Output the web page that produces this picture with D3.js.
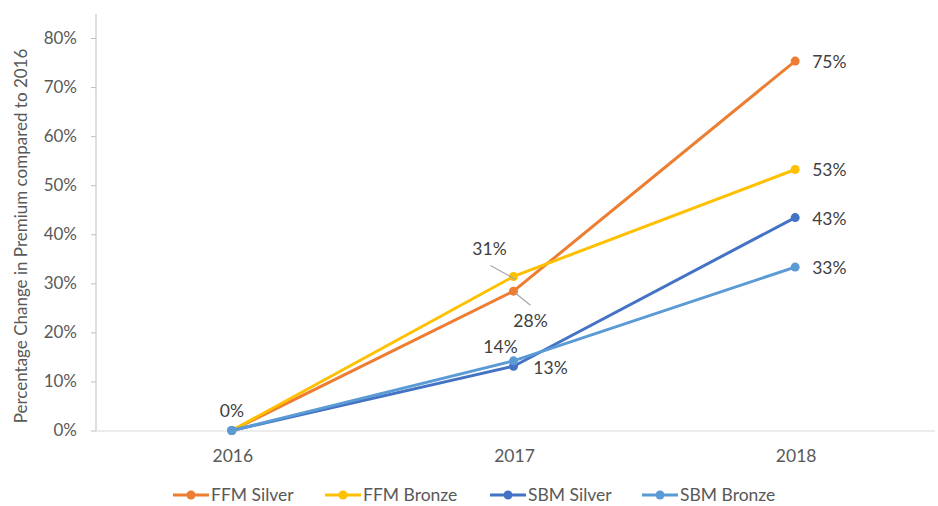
<!DOCTYPE html>
<html>
<head>
<meta charset="utf-8">
<script src="https://cdn.jsdelivr.net/npm/d3@7"></script>
<style>
  body { margin: 0; background: #fff; }
  svg { font-family: Lato, "Open Sans", sans-serif; }
</style>
</head>
<body>
<svg></svg>
<script>
var screen = {width: 938, height: 506}
var margins = {top: 14, right: 3, bottom: 75, left: 96}

var years = ["2016", "2017", "2018"]
var seriesNames = ["FFM Silver", "FFM Bronze", "SBM Silver", "SBM Bronze"]
var ffmSilver = [0, 28.4, 75.3]
var ffmBronze = [0, 31.4, 53.2]
var sbmSilver = [0, 13.1, 43.4]
var sbmBronze = [0, 14.2, 33.3]
var yTicks = [0, 10, 20, 30, 40, 50, 60, 70, 80]
var colors = ["#ED7D31", "#FFC000", "#4472C4", "#5B9BD5"]

var allSeries = [ffmSilver, ffmBronze, sbmSilver, sbmBronze]
var fontSize = "17.5px"

var svg = d3.select("svg")
    .attr("width", screen.width)
    .attr("height", screen.height)

var height = screen.height - margins.top - margins.bottom
var bottom = margins.top + height

var xScale = d3.scalePoint()
    .domain(years)
    .range([91, 936])
    .padding(0.5)

var yScale = d3.scaleLinear()
    .domain([0, 80])
    .range([bottom - 0.5, 38])

// y axis
var yAxis = d3.axisLeft(yScale)
    .tickValues(yTicks)
    .tickSize(5)
    .tickFormat(function(d){ return d + "%" })

var yg = svg.append("g")
    .attr("transform", "translate(" + margins.left + ",0)")
    .call(yAxis)
yg.select(".domain").remove()
yg.selectAll(".tick line").attr("stroke", "#BFBFBF")
yg.selectAll(".tick text")
    .attr("x", -19)
    .attr("fill", "#595959")
    .style("font-size", "17px")
    .style("font-family", "Lato, sans-serif")

svg.append("line")
    .attr("x1", margins.left).attr("x2", margins.left)
    .attr("y1", margins.top).attr("y2", bottom)
    .attr("stroke", "#BFBFBF")

// x axis
svg.append("line")
    .attr("x1", margins.left).attr("x2", screen.width - margins.right)
    .attr("y1", bottom).attr("y2", bottom)
    .attr("stroke", "#D9D9D9")

svg.selectAll(".xlabel")
    .data(years)
    .enter()
    .append("text")
    .attr("class", "xlabel")
    .attr("x", function(d){ return xScale(d) + 1 })
    .attr("y", bottom + 31)
    .attr("text-anchor", "middle")
    .attr("fill", "#595959")
    .style("font-size", fontSize)
    .text(function(d){ return d })

// y title
svg.append("text")
    .attr("transform", "translate(27," + 236 + ") rotate(-90)")
    .attr("text-anchor", "middle")
    .attr("fill", "#595959")
    .style("font-size", "17px")
    .text("Percentage Change in Premium compared to 2016")

// lines
var line = d3.line()
    .x(function(d, i){ return xScale(years[i]) })
    .y(function(d){ return yScale(d) })

allSeries.forEach(function(vals, s)
{
    svg.append("path")
        .datum(vals)
        .attr("d", line)
        .attr("fill", "none")
        .attr("stroke", colors[s])
        .attr("stroke-width", 3)
        .attr("stroke-linejoin", "round")

    svg.selectAll(".dot" + s)
        .data(vals)
        .enter()
        .append("circle")
        .attr("cx", function(d, i){ return xScale(years[i]) })
        .attr("cy", function(d){ return yScale(d) })
        .attr("r", 4.5)
        .attr("fill", colors[s])
})

// data labels
var labelStyle = function(sel)
{
    sel.attr("fill", "#404040")
        .style("font-size", fontSize)
}

// 2018 labels, right of points
allSeries.forEach(function(vals)
{
    svg.append("text")
        .attr("x", xScale("2018") + 17)
        .attr("y", yScale(vals[2]) + 7)
        .call(labelStyle)
        .text(Math.round(vals[2]) + "%")
})

// 0% at 2016
svg.append("text")
    .attr("x", xScale("2016"))
    .attr("y", yScale(0) - 14)
    .attr("text-anchor", "middle")
    .call(labelStyle)
    .text("0%")

// 2017 labels
var x17 = xScale("2017")
svg.append("text")
    .attr("x", x17 - 24).attr("y", yScale(ffmBronze[1]) - 21)
    .attr("text-anchor", "middle").call(labelStyle)
    .text(Math.round(ffmBronze[1]) + "%")
svg.append("line")
    .attr("x1", x17 - 23).attr("y1", yScale(ffmBronze[1]) - 11)
    .attr("x2", x17 + 2).attr("y2", yScale(ffmBronze[1]) + 3)
    .attr("stroke", "#A6A6A6").attr("stroke-width", 1.2)

svg.append("text")
    .attr("x", x17 + 17).attr("y", yScale(ffmSilver[1]) + 36)
    .attr("text-anchor", "middle").call(labelStyle)
    .text(Math.round(ffmSilver[1]) + "%")
svg.append("line")
    .attr("x1", x17 + 2).attr("y1", yScale(ffmSilver[1]) + 2)
    .attr("x2", x17 + 17).attr("y2", yScale(ffmSilver[1]) + 14)
    .attr("stroke", "#A6A6A6").attr("stroke-width", 1.2)

svg.append("text")
    .attr("x", x17 - 13).attr("y", yScale(sbmBronze[1]) - 8)
    .attr("text-anchor", "middle").call(labelStyle)
    .text(Math.round(sbmBronze[1]) + "%")

svg.append("text")
    .attr("x", x17 + 37).attr("y", yScale(sbmSilver[1]) + 8)
    .attr("text-anchor", "middle").call(labelStyle)
    .text(Math.round(sbmSilver[1]) + "%")

// legend
var legendX = [173, 325, 490, 642]
seriesNames.forEach(function(name, s)
{
    var g = svg.append("g")
        .attr("transform", "translate(" + legendX[s] + ",495)")
    g.append("line")
        .attr("x1", 0).attr("x2", 36)
        .attr("stroke", colors[s])
        .attr("stroke-width", 3)
    g.append("circle")
        .attr("cx", 18).attr("r", 4.5)
        .attr("fill", colors[s])
    g.append("text")
        .attr("x", 38).attr("y", 6)
        .attr("fill", "#595959")
        .style("font-size", fontSize)
        .text(name)
})
</script>
</body>
</html>
